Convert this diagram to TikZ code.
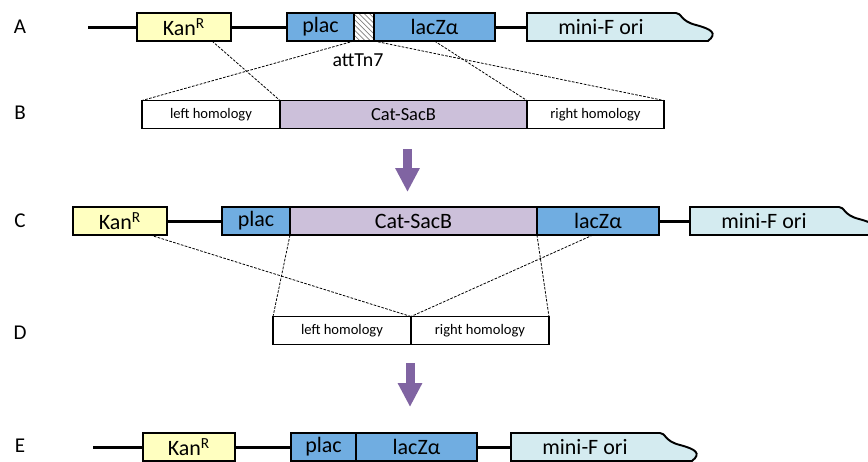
\documentclass[tikz,border=0pt]{standalone}
\usepackage{fontspec}
\setmainfont{Carlito}
\usetikzlibrary{positioning,patterns,arrows.meta}

\definecolor{kanyellow}{RGB}{255,255,192}
\definecolor{lacblue}{RGB}{112,173,225}
\definecolor{catlilac}{RGB}{204,192,218}
\definecolor{oricyan}{RGB}{212,235,240}
\definecolor{arrowpurple}{RGB}{128,100,162}

\tikzset{
  gene/.style={draw, line width=1.1pt, minimum height=0.56cm, inner sep=0pt, outer sep=0pt,
    font=\fontsize{12.5}{15}\selectfont},
  kan/.style={gene, fill=kanyellow, minimum width=1.88cm},
  lac/.style={gene, fill=lacblue},
  cat/.style={gene, fill=catlilac},
  homol/.style={gene, fill=white, minimum width=2.76cm, font=\fontsize{8.3}{10}\selectfont},
  ori/.style={gene, draw=none, minimum width=2.96cm},
  backbone/.style={line width=1.7pt},
  link/.style={line width=0.45pt, dash pattern=on 1.5pt off 0.8pt},
  downarrow/.style={arrowpurple, line width=0.18cm, -{Triangle[width=0.46cm,length=0.48cm]}},
  rowlab/.style={font=\fontsize{12}{14}\selectfont}
}

% mini-F ori segment with its wavy end; #1 node name, #2 west point
\newcommand{\minif}[2]{%
  \begin{scope}[shift={(#2)}]
    \draw[line width=1.1pt, fill=oricyan] (0,-14) -- (149,-14)
      .. controls (155,-14) and (153,-6) .. (169,-2)
      .. controls (184,2) and (191,6) .. (181,14) -- (0,14) -- cycle;
  \end{scope}
  \node[ori, anchor=west] (#1) at (#2) {mini-F ori};
}

\begin{document}
\begin{tikzpicture}[x=0.02cm, y=-0.02cm]
  \useasboundingbox (0,0) rectangle (868,461);

  \node[rowlab] (labA) at (20,27) {A};
  \node[rowlab] (labB) at (20,113) {B};
  \node[rowlab] (labC) at (20,221) {C};
  \node[rowlab] (labD) at (20,333) {D};
  \node[rowlab] (labE) at (20,446) {E};

  % A
  \coordinate (startA) at (88,27);
  \coordinate (oriAw) at (527,27);
  \node[kan] (kanA) at (184,27) {Kan\textsuperscript{R}};
  \node[lac, minimum width=1.34cm] (placA) at (320.5,27) {plac};
  \node[gene, pattern=north west lines, pattern color=gray, minimum width=0.4cm, right=0pt of placA] (attA) {};
  \node[lac, minimum width=2.42cm, right=0pt of attA] (lacA) {lacZα};
  \minif{oriA}{oriAw}
  \draw[backbone] (startA) -- (kanA) (kanA) -- (placA) (lacA) -- (oriA);
  \node[font=\fontsize{11.3}{13}\selectfont] (attlab) at (358,60) {attTn7};

  % B
  \node[homol] (leftB) at (211,114.5) {left homology};
  \node[cat, minimum width=4.94cm, font=\fontsize{10.5}{12}\selectfont, right=0pt of leftB] (catB) {Cat-SacB};
  \node[homol, minimum width=2.74cm, right=0pt of catB] (rightB) {right homology};

  \draw[link] ([xshift=0.56cm]kanA.south) -- (catB.north west);
  \draw[link] (attA.south west) -- (leftB.north west);
  \draw[link] (attA.south east) -- (rightB.north east);
  \draw[link] (lacA.south) -- (catB.north east);

  \coordinate (arr1s) at (407.5,149);
  \coordinate (arr1e) at (407.5,192);
  \draw[downarrow] (arr1s) -- (arr1e);

  % C
  \coordinate (oriCw) at (690,221);
  \node[kan] (kanC) at (120,221) {Kan\textsuperscript{R}};
  \node[lac, minimum width=1.36cm] (placC) at (256,221) {plac};
  \node[cat, minimum width=4.94cm, right=0pt of placC] (catC) {Cat-SacB};
  \node[lac, minimum width=2.44cm, right=0pt of catC] (lacC) {lacZα};
  \minif{oriC}{oriCw}
  \draw[backbone] (kanC) -- (placC) (lacC) -- (oriC);

  % D
  \node[homol] (leftD) at (342,330.5) {left homology};
  \node[homol, right=0pt of leftD] (rightD) {right homology};

  \draw[link] ([xshift=0.6cm]kanC.south) -- (leftD.north east);
  \draw[link] (placC.south east) -- (leftD.north west);
  \draw[link] (catC.south east) -- (rightD.north east);
  \draw[link] ([xshift=-0.1cm]lacC.south) -- (leftD.north east);

  \coordinate (arr2s) at (410,363);
  \coordinate (arr2e) at (410,407);
  \draw[downarrow] (arr2s) -- (arr2e);

  % E
  \coordinate (startE) at (93,447);
  \coordinate (oriEw) at (511,447);
  \node[kan, minimum width=1.84cm] (kanE) at (189,447) {Kan\textsuperscript{R}};
  \node[lac, minimum width=1.3cm] (placE) at (323.5,447) {plac};
  \node[lac, minimum width=2.42cm, right=0pt of placE] (lacE) {lacZα};
  \minif{oriE}{oriEw}
  \draw[backbone] (startE) -- (kanE) (kanE) -- (placE) (lacE) -- (oriE);
\end{tikzpicture}
\end{document}
